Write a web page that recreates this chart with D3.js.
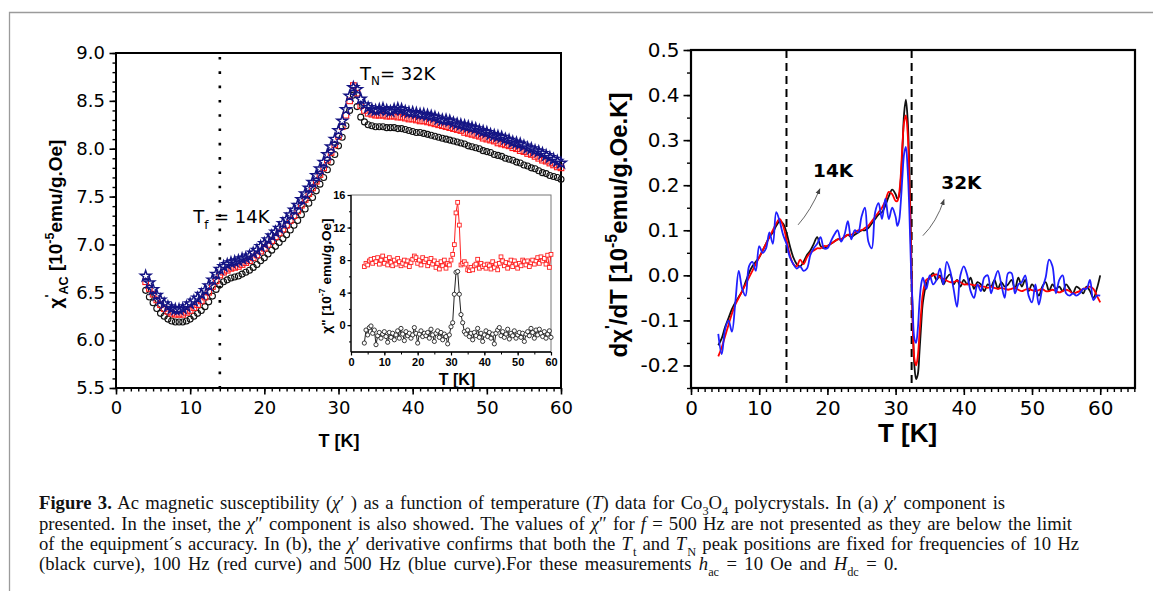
<!DOCTYPE html>
<html><head><meta charset="utf-8">
<script src="https://cdn.jsdelivr.net/npm/d3@7/dist/d3.min.js"></script>
<style>body{margin:0;background:#fff}svg{display:block}</style>
</head><body>
<svg id="c" width="1153" height="591"></svg>
<script>
// ---------------- DATA ----------------
// (a) chi' vs T, three frequencies
const tempsA = [
 4.0,4.5,5.0,5.5,6.0,6.5,7.0,7.5,8.0,8.5,
 9.0,9.5,10.0,10.5,11.0,11.5,12.0,12.5,13.0,13.5,
 14.0,14.5,15.0,15.5,16.0,16.5,17.0,17.5,18.0,18.5,
 19.0,19.5,20.0,20.5,21.0,21.5,22.0,22.5,23.0,23.5,
 24.0,24.5,25.0,25.5,26.0,26.5,27.0,27.5,28.0,28.5,
 29.0,29.5,30.0,30.5,31.0,31.5,32.0,32.5,33.0,33.5,
 34.0,34.5,35.0,35.5,36.0,36.5,37.0,37.5,38.0,38.5,
 39.0,39.5,40.0,40.5,41.0,41.5,42.0,42.5,43.0,43.5,
 44.0,44.5,45.0,45.5,46.0,46.5,47.0,47.5,48.0,48.5,
 49.0,49.5,50.0,50.5,51.0,51.5,52.0,52.5,53.0,53.5,
 54.0,54.5,55.0,55.5,56.0,56.5,57.0,57.5,58.0,58.5,
 59.0,59.5,60.0];
const chi10Hz = [
 6.52,6.45,6.39,6.33,6.28,6.25,6.22,6.20,6.19,6.19,
 6.19,6.20,6.22,6.25,6.28,6.31,6.35,6.40,6.46,6.53,
 6.58,6.61,6.63,6.65,6.66,6.67,6.69,6.71,6.73,6.76,
 6.79,6.83,6.86,6.90,6.94,6.98,7.02,7.06,7.10,7.15,
 7.20,7.25,7.31,7.37,7.43,7.49,7.56,7.63,7.70,7.78,
 7.86,7.94,8.03,8.12,8.24,8.40,8.56,8.44,8.33,8.28,
 8.25,8.24,8.23,8.23,8.23,8.22,8.22,8.22,8.21,8.21,
 8.20,8.19,8.18,8.17,8.17,8.16,8.15,8.14,8.13,8.12,
 8.11,8.10,8.09,8.08,8.07,8.06,8.05,8.03,8.02,8.01,
 8.00,7.98,7.97,7.96,7.94,7.93,7.92,7.90,7.89,7.88,
 7.86,7.85,7.83,7.82,7.80,7.79,7.77,7.75,7.74,7.72,
 7.71,7.70,7.68];
const chi100Hz = [
 6.61,6.54,6.48,6.42,6.37,6.33,6.30,6.28,6.27,6.27,
 6.27,6.29,6.31,6.34,6.37,6.41,6.45,6.50,6.56,6.62,
 6.68,6.71,6.73,6.75,6.76,6.77,6.79,6.81,6.83,6.86,
 6.89,6.93,6.96,7.00,7.04,7.08,7.12,7.16,7.20,7.25,
 7.30,7.35,7.41,7.47,7.53,7.59,7.66,7.73,7.80,7.88,
 7.96,8.04,8.13,8.23,8.35,8.50,8.66,8.58,8.45,8.40,
 8.37,8.36,8.35,8.35,8.35,8.34,8.34,8.34,8.33,8.33,
 8.32,8.31,8.31,8.30,8.29,8.29,8.28,8.27,8.26,8.25,
 8.24,8.23,8.22,8.21,8.20,8.19,8.17,8.16,8.15,8.14,
 8.13,8.11,8.10,8.09,8.08,8.06,8.05,8.04,8.03,8.01,
 8.00,7.98,7.97,7.95,7.94,7.92,7.90,7.88,7.87,7.85,
 7.83,7.81,7.80];
const chi500Hz = [
 6.67,6.60,6.53,6.47,6.42,6.38,6.35,6.33,6.32,6.32,
 6.33,6.35,6.38,6.41,6.44,6.48,6.52,6.57,6.63,6.69,
 6.74,6.77,6.79,6.81,6.82,6.83,6.85,6.86,6.88,6.91,
 6.94,6.98,7.01,7.05,7.09,7.13,7.17,7.22,7.26,7.31,
 7.36,7.41,7.47,7.53,7.59,7.65,7.72,7.79,7.86,7.94,
 8.02,8.10,8.19,8.29,8.41,8.55,8.64,8.62,8.52,8.46,
 8.43,8.41,8.40,8.41,8.42,8.40,8.39,8.41,8.42,8.41,
 8.39,8.38,8.38,8.37,8.36,8.36,8.35,8.34,8.33,8.31,
 8.30,8.30,8.29,8.27,8.26,8.25,8.24,8.23,8.22,8.21,
 8.19,8.18,8.17,8.15,8.14,8.13,8.12,8.10,8.09,8.07,
 8.06,8.05,8.03,8.01,8.00,7.98,7.97,7.95,7.93,7.91,
 7.89,7.87,7.85];
// inset: chi'' (10^-7 emu/g.Oe)
const chi2_100Hz = [
 7.2,7.6,7.4,7.9,8.1,7.6,8.2,7.8,8.3,7.5,
 8.0,8.5,7.6,8.1,7.4,8.3,7.7,7.3,8.0,7.5,
 8.2,7.8,7.3,7.6,8.0,7.4,7.9,7.2,7.7,8.1,
 8.5,8.3,7.6,8.0,7.4,8.3,7.8,8.1,7.3,7.7,
 8.2,7.5,7.9,7.1,7.6,6.9,7.8,7.3,8.0,7.0,
 7.6,7.4,8.0,8.7,9.9,13.8,15.1,12.3,7.4,7.6,
 7.8,7.5,6.8,6.7,7.1,6.8,7.3,7.5,8.1,7.0,
 7.6,7.2,7.4,7.0,7.5,7.3,6.9,7.8,7.1,7.5,
 6.8,7.6,8.4,7.9,7.3,7.7,7.0,7.6,8.0,7.2,
 7.9,7.5,7.0,7.6,7.3,8.0,7.8,7.4,7.9,7.2,
 7.7,8.0,7.5,7.9,8.3,7.6,8.4,7.9,8.2,7.5,
 8.6,7.1,8.7];
const chi2_10Hz = [
 -2.2,-0.6,-1.2,-0.3,-0.1,-1.0,-0.6,-2.4,-1.3,-0.9,
 -1.6,-1.1,-0.8,-1.4,-2.1,-0.9,-1.5,-1.0,-1.8,-1.2,
 -0.7,-1.6,-0.4,-1.1,-1.9,-0.8,-1.3,-1.0,-1.6,-1.2,
 -0.3,-1.0,-2.2,-1.1,-0.7,-1.4,-1.0,-1.3,-0.9,-1.6,
 -0.5,-1.2,-2.0,-1.0,-0.7,-1.5,-0.9,-1.8,-1.1,-1.4,
 -2.3,-1.2,-0.2,0.3,3.8,6.5,6.6,3.8,1.3,0.3,
 -0.8,-1.1,-0.6,-1.4,-1.0,-1.8,-0.9,-1.3,-0.4,-1.5,
 -1.0,-2.0,-1.2,-0.7,-1.4,-0.9,-1.6,-1.1,-2.3,-1.0,
 -0.6,-0.3,-1.3,-0.8,-1.5,-1.1,-0.5,-1.7,-1.0,-1.3,
 -0.7,-1.6,-1.2,-0.9,-1.5,-1.0,-2.0,-1.1,-0.8,-1.3,
 -0.4,-0.9,-1.6,-0.6,-1.2,-0.5,-1.0,-1.4,-0.8,-1.6,
 -1.1,-0.7,-1.5];
// (b) d chi'/dT
const tempsB = [
 4.0,4.5,5.0,5.5,6.0,6.5,7.0,7.5,8.0,8.5,
 9.0,9.5,10.0,10.5,11.0,11.5,12.0,12.5,13.0,13.5,
 14.0,14.5,15.0,15.5,16.0,16.5,17.0,17.5,18.0,18.5,
 19.0,19.5,20.0,20.5,21.0,21.5,22.0,22.5,23.0,23.5,
 24.0,24.5,25.0,25.5,26.0,26.5,27.0,27.5,28.0,28.5,
 29.0,29.5,30.0,30.25,30.5,30.75,31.0,31.25,31.5,31.75,
 32.0,32.25,32.5,32.75,33.0,33.25,33.5,33.75,34.0,34.5,
 35.0,35.5,36.0,36.5,37.0,37.5,38.0,38.5,39.0,39.5,
 40.0,40.5,41.0,41.5,42.0,42.5,43.0,43.5,44.0,44.5,
 45.0,45.5,46.0,46.5,47.0,47.5,48.0,48.5,49.0,49.5,
 50.0,50.5,51.0,51.5,52.0,52.5,53.0,53.5,54.0,54.5,
 55.0,55.5,56.0,56.5,57.0,57.5,58.0,58.5,59.0,59.5,
 60.0];
const deriv10Hz = [
 -0.155,-0.14,-0.115,-0.095,-0.075,-0.06,-0.048,-0.035,-0.015,0.005,
 0.02,0.03,0.04,0.055,0.07,0.085,0.095,0.11,0.12,0.115,
 0.095,0.065,0.04,0.025,0.02,0.03,0.045,0.055,0.07,0.085,
 0.065,0.06,0.065,0.07,0.075,0.08,0.08,0.085,0.09,0.085,
 0.09,0.095,0.1,0.1,0.105,0.115,0.125,0.135,0.14,0.155,
 0.175,0.19,0.18,0.17,0.175,0.21,0.28,0.36,0.39,0.35,
 0.25,0.08,-0.1,-0.2,-0.23,-0.22,-0.17,-0.11,-0.06,-0.02,
 -0.005,0.005,-0.01,0.0,-0.02,-0.005,0.002,-0.02,-0.01,-0.025,
 -0.01,-0.02,-0.005,-0.03,-0.015,-0.02,-0.035,-0.02,-0.025,-0.01,
 -0.03,-0.015,-0.025,-0.02,-0.01,-0.03,-0.005,-0.025,-0.01,-0.035,
 -0.02,-0.03,-0.045,-0.025,-0.015,-0.035,-0.02,-0.03,-0.025,-0.035,
 -0.02,-0.03,-0.04,-0.025,-0.03,-0.04,-0.025,-0.035,-0.05,-0.03,
 0.0];
const deriv100Hz = [
 -0.18,-0.16,-0.135,-0.11,-0.085,-0.065,-0.05,-0.035,-0.02,-0.005,
 0.01,0.025,0.04,0.055,0.07,0.085,0.1,0.115,0.125,0.11,
 0.08,0.045,0.025,0.02,0.035,0.025,0.04,0.05,0.055,0.06,
 0.06,0.065,0.065,0.07,0.075,0.08,0.08,0.085,0.09,0.09,
 0.095,0.1,0.1,0.105,0.11,0.12,0.13,0.14,0.15,0.165,
 0.185,0.18,0.165,0.165,0.18,0.22,0.29,0.34,0.355,0.32,
 0.22,0.06,-0.1,-0.185,-0.2,-0.18,-0.13,-0.08,-0.04,-0.01,
 -0.005,0.0,0.002,-0.005,-0.008,-0.012,-0.015,-0.015,-0.012,-0.015,
 -0.02,-0.02,-0.02,-0.022,-0.022,-0.025,-0.025,-0.028,-0.025,-0.028,
 -0.03,-0.028,-0.03,-0.032,-0.03,-0.028,-0.032,-0.035,-0.032,-0.03,
 -0.033,-0.035,-0.033,-0.03,-0.035,-0.035,-0.032,-0.035,-0.038,-0.035,
 -0.032,-0.035,-0.04,-0.038,-0.035,-0.03,-0.028,-0.025,-0.03,-0.045,
 -0.06];
const deriv500Hz = [
 -0.13,-0.175,-0.12,-0.1,-0.125,-0.06,0.01,-0.03,-0.045,0.02,
 0.03,0.01,0.065,0.05,0.06,0.095,0.07,0.14,0.12,0.09,
 0.07,0.04,0.025,0.015,0.02,0.01,0.015,0.045,0.06,0.07,
 0.085,0.06,0.06,0.075,0.09,0.1,0.075,0.09,0.12,0.08,
 0.1,0.095,0.13,0.15,0.075,0.06,0.14,0.16,0.125,0.17,
 0.125,0.15,0.13,0.11,0.12,0.16,0.22,0.27,0.285,0.24,
 0.15,0.02,-0.07,-0.14,-0.15,-0.12,-0.06,-0.02,-0.005,-0.03,
 0.0,-0.02,-0.01,0.015,-0.02,0.03,0.01,-0.03,-0.07,0.0,
 0.02,0.0,-0.035,-0.05,-0.02,-0.035,-0.005,0.0,-0.04,-0.01,
 0.01,-0.02,-0.05,0.005,0.005,-0.04,-0.02,-0.015,0.0,-0.045,
 -0.06,-0.02,-0.065,-0.03,-0.005,0.035,0.02,-0.04,-0.01,0.0,
 -0.04,-0.045,-0.04,-0.045,-0.04,-0.03,-0.03,-0.01,-0.055,-0.045,
 -0.045];

// tick labels
const ticksAx = [0,10,20,30,40,50,60];
const ticksAy = [5.5,6.0,6.5,7.0,7.5,8.0,8.5,9.0];
const ticksInX = [0,10,20,30,40,50,60];
const ticksInY = [0,4,8,12,16];
const ticksBx = [0,10,20,30,40,50,60];
const ticksBy = [-0.2,-0.1,0.0,0.1,0.2,0.3,0.4,0.5];
const markerTemps = [14, 32.35]; // T_f and T_N guide lines

// ---------------- DRAWING ----------------
const svg = d3.select("#c");
const SANS = "'DejaVu Sans', sans-serif";
const ARIAL = "'Liberation Sans', Arial, sans-serif";
const SERIF = "'Liberation Serif', 'Times New Roman', serif";

// outer frame
svg.append("path").attr("d","M9.5,600V12.5H1160").attr("fill","none")
  .attr("stroke","#9b9b9b").attr("stroke-width",1.3);

function rich(sel, segs, fs) {
  let shift = 0;
  segs.forEach(seg => {
    const t = Array.isArray(seg) ? seg[0] : seg;
    const st = (Array.isArray(seg) ? (seg[1]||"") : "").split(" ");
    const ts = sel.append("tspan").text(t);
    let target = 0;
    if (st.includes("sub")) target = fs*0.3;
    if (st.includes("sup")) target = -fs*0.42;
    if (target !== shift) ts.attr("dy", target - shift);
    if (st.includes("gap")) ts.attr("dx", fs*0.06);
    shift = target;
    if (st.includes("sub") || st.includes("sup")) ts.attr("font-size", fs*0.66);
    if (st.includes("b")) ts.attr("font-weight","bold");
    if (st.includes("n")) ts.attr("font-weight","normal");
    if (st.includes("i")) ts.attr("font-style","italic");
  });
  return sel;
}

function axis(g, gen, tr, values, size, pad, fmt, ff, fs, fw, sw) {
  const a = g.append("g").attr("transform", tr)
    .call(gen.tickValues(values).tickSize(size).tickPadding(pad).tickFormat(fmt));
  a.select(".domain").remove();
  a.selectAll("line").attr("stroke","#000").attr("stroke-width", sw);
  a.selectAll("text").attr("font-family", ff).attr("font-size", fs)
    .attr("font-weight", fw).attr("fill","#000");
  return a;
}
const range = (a,b,s) => d3.range(a, b + s/2, s);

// ===== Panel (a) =====
const xA = d3.scaleLinear().domain([0,60]).range([116,561]);
const yA = d3.scaleLinear().domain([5.5,9.0]).range([388,53]);
const gA = svg.append("g");

axis(gA, d3.axisBottom(xA), `translate(0,${yA(5.5)})`, range(0,60,1), 3.5, 0, "", SANS, 0, "normal", 1.4);
axis(gA, d3.axisBottom(xA), `translate(0,${yA(5.5)})`, ticksAx, 6.5, 7, d3.format("d"), SANS, 18, "normal", 1.6);
axis(gA, d3.axisLeft(yA), `translate(${xA(0)},0)`, range(5.5,9.0,0.1), 3.5, 0, "", SANS, 0, "normal", 1.4);
axis(gA, d3.axisLeft(yA), `translate(${xA(0)},0)`, ticksAy, 6.5, 4.5, d => d.toFixed(1), SANS, 18, "normal", 1.6);
gA.append("rect").attr("x",xA(0)).attr("y",yA(9)).attr("width",xA(60)-xA(0)).attr("height",yA(5.5)-yA(9))
  .attr("fill","none").attr("stroke","#000").attr("stroke-width",2);

gA.append("line").attr("x1",xA(markerTemps[0])).attr("x2",xA(markerTemps[0]))
  .attr("y1",yA(9.0)+4).attr("y2",yA(5.5)).attr("stroke","#000").attr("stroke-width",2.6)
  .attr("stroke-dasharray","2.6,11.7");

const ptsA = (vals) => tempsA.map((t,i)=>[t, vals[i]]);
// 10 Hz circles
gA.append("g").selectAll("circle").data(ptsA(chi10Hz)).join("circle")
  .attr("cx",d=>xA(d[0])).attr("cy",d=>yA(d[1])).attr("r",3)
  .attr("fill","none").attr("stroke","#111").attr("stroke-width",1.1);
// 100 Hz squares
gA.append("g").selectAll("rect").data(ptsA(chi100Hz)).join("rect")
  .attr("x",d=>xA(d[0])-2.8).attr("y",d=>yA(d[1])-2.8).attr("width",5.6).attr("height",5.6)
  .attr("fill","none").attr("stroke","#ff1a1a").attr("stroke-width",1.1);
// 500 Hz stars
const star = d3.symbol().type(d3.symbolStar).size(36);
gA.append("g").selectAll("path").data(ptsA(chi500Hz)).join("path")
  .attr("d", star).attr("transform", d=>`translate(${xA(d[0])},${yA(d[1])})`)
  .attr("fill","none").attr("stroke","#141484").attr("stroke-width",1.4);

// annotations
rich(gA.append("text").attr("x",xA(32.9)).attr("y",yA(8.72)).attr("font-family",SANS).attr("font-size",18),
  [["T"],["N","sub"],["= 32K"]], 18);
rich(gA.append("text").attr("x",xA(10.4)).attr("y",yA(7.22)).attr("font-family",SANS).attr("font-size",18),
  [["T"],["f","sub"],["  = 14K"]], 18);

// axis titles
gA.append("text").attr("x",339).attr("y",447).attr("text-anchor","middle")
  .attr("font-family",ARIAL).attr("font-weight","bold").attr("font-size",18).text("T [K]");
rich(gA.append("text").attr("transform","translate(62,224) rotate(-90)").attr("text-anchor","middle")
  .attr("font-family",ARIAL).attr("font-weight","bold").attr("font-size",19),
  [["χ"],["'","sup"],["AC","sub"],[" [10"],["-5","sup"],["emu/g.Oe]"]], 19);

// ===== Inset =====
const xI = d3.scaleLinear().domain([0,60]).range([351,551]);
const yI = d3.scaleLinear().domain([-3.3,16]).range([352,195]);
const gI = svg.append("g");
gI.append("rect").attr("x",xI(0)).attr("y",yI(16)).attr("width",xI(60)-xI(0)).attr("height",yI(-3.3)-yI(16))
  .attr("fill","#fff").attr("stroke","#777").attr("stroke-width",1);
axis(gI, d3.axisBottom(xI), `translate(0,${yI(-3.3)})`, range(0,60,5), 2.5, 0, "", ARIAL, 0, "bold", 1);
axis(gI, d3.axisBottom(xI), `translate(0,${yI(-3.3)})`, ticksInX, 3.5, 3, d3.format("d"), ARIAL, 11, "bold", 1.2);
axis(gI, d3.axisLeft(yI), `translate(${xI(0)},0)`, range(-2,16,2), 2, 0, "", ARIAL, 0, "bold", 1);
axis(gI, d3.axisLeft(yI), `translate(${xI(0)},0)`, ticksInY, 3.5, 2, d3.format("d"), ARIAL, 11, "bold", 1.2);
gI.append("line").attr("x1",xI(0)).attr("x2",xI(0)).attr("y1",yI(16)).attr("y2",yI(-3.3)).attr("stroke","#000").attr("stroke-width",1.3);
gI.append("line").attr("x1",xI(0)).attr("x2",xI(60)).attr("y1",yI(-3.3)).attr("y2",yI(-3.3)).attr("stroke","#000").attr("stroke-width",1.3);

const lineI = d3.line().x(d=>xI(d[0])).y(d=>yI(d[1]));
[[chi2_100Hz,"#ff2020","sq"],[chi2_10Hz,"#222","ci"]].forEach(([vals,col,m])=>{
  const pts = ptsA(vals);
  gI.append("path").attr("d",lineI(pts)).attr("fill","none").attr("stroke",col).attr("stroke-width",1);
  if (m==="sq") gI.append("g").selectAll("rect").data(pts).join("rect")
    .attr("x",d=>xI(d[0])-1.9).attr("y",d=>yI(d[1])-1.9).attr("width",3.8).attr("height",3.8)
    .attr("fill","#fff").attr("stroke",col).attr("stroke-width",0.9);
  else gI.append("g").selectAll("circle").data(pts).join("circle")
    .attr("cx",d=>xI(d[0])).attr("cy",d=>yI(d[1])).attr("r",2.1)
    .attr("fill","#fff").attr("stroke",col).attr("stroke-width",0.9);
});
gI.append("text").attr("x",457).attr("y",385).attr("text-anchor","middle")
  .attr("font-family",ARIAL).attr("font-weight","bold").attr("font-size",16).text("T [K]");
rich(gI.append("text").attr("transform","translate(331,276) rotate(-90)").attr("text-anchor","middle")
  .attr("font-family",ARIAL).attr("font-weight","bold").attr("font-size",13.5),
  [["χ\" [10"],["-7","sup"],[" emu/g.Oe]"]], 13.5);

// ===== Panel (b) =====
const xB = d3.scaleLinear().domain([0,65.1]).range([691,1135]);
const yB = d3.scaleLinear().domain([-0.25,0.5]).range([388,50]);
const gB = svg.append("g");
axis(gB, d3.axisBottom(xB), `translate(0,${yB(-0.25)})`, range(0,65,1), 4, 0, "", SANS, 0, "normal", 1.4);
axis(gB, d3.axisBottom(xB), `translate(0,${yB(-0.25)})`, ticksBx, 7, 6, d3.format("d"), SANS, 20, "normal", 1.6);
axis(gB, d3.axisLeft(yB), `translate(${xB(0)},0)`, range(-0.25,0.5,0.05), 4, 0, "", SANS, 0, "normal", 1.4);
axis(gB, d3.axisLeft(yB), `translate(${xB(0)},0)`, ticksBy, 7.5, 4, d => d.toFixed(1), SANS, 20, "normal", 1.6);
gB.append("rect").attr("x",xB(0)).attr("y",yB(0.5)).attr("width",xB(65.1)-xB(0)).attr("height",yB(-0.25)-yB(0.5))
  .attr("fill","none").attr("stroke","#000").attr("stroke-width",2.2);

markerTemps.forEach(t => gB.append("line").attr("x1",xB(t)).attr("x2",xB(t))
  .attr("y1",yB(0.5)).attr("y2",yB(-0.25)).attr("stroke","#000").attr("stroke-width",2)
  .attr("stroke-dasharray","8,5"));

const lineB = d3.line().x(d=>xB(d[0])).y(d=>yB(d[1])).curve(d3.curveCatmullRom.alpha(0.5));
[[deriv10Hz,"#111"],[deriv100Hz,"#ff0000"],[deriv500Hz,"#1f1fff"]].forEach(([vals,col])=>{
  gB.append("path").attr("d", lineB(tempsB.map((t,i)=>[t,vals[i]])))
    .attr("fill","none").attr("stroke",col).attr("stroke-width",1.8).attr("stroke-linejoin","round");
});

// annotations with arrows
const defs = svg.append("defs");
defs.append("marker").attr("id","ah").attr("viewBox","0 0 10 10").attr("refX",9).attr("refY",5)
  .attr("markerWidth",6).attr("markerHeight",6).attr("orient","auto-start-reverse")
  .append("path").attr("d","M0,1L10,5L0,9Z").attr("fill","#444");
function arrow(t0,v0,tc,vc,t1,v1){
  const p = d3.path(); p.moveTo(xB(t0),yB(v0)); p.quadraticCurveTo(xB(tc),yB(vc),xB(t1),yB(v1));
  gB.append("path").attr("d",p.toString()).attr("fill","none").attr("stroke","#666")
    .attr("stroke-width",1).attr("marker-end","url(#ah)");
}
arrow(15.7,0.112, 17.6,0.145, 18.9,0.192);
arrow(34.0,0.088, 36.0,0.118, 37.1,0.168);
gB.append("text").attr("x",xB(17.9)).attr("y",yB(0.218)).attr("font-family",SANS)
  .attr("font-weight","bold").attr("font-size",18.5).text("14K");
gB.append("text").attr("x",xB(36.7)).attr("y",yB(0.192)).attr("font-family",SANS)
  .attr("font-weight","bold").attr("font-size",18.5).text("32K");

gB.append("text").attr("x",878).attr("y",442)
  .attr("font-family",ARIAL).attr("font-weight","bold").attr("font-size",26).text("T [K]");
rich(gB.append("text").attr("transform","translate(627,225) rotate(-90)").attr("text-anchor","middle")
  .attr("font-family",ARIAL).attr("font-weight","bold").attr("font-size",24),
  [["dχ"],["'","sup"],["/dT [10"],["-5","sup"],["emu/g.Oe.K]"]], 24);

// ===== Caption =====
const capLines = [
  {y:509, w:966, segs:[["Figure 3.","b"],[" Ac magnetic susceptibility ("],["χ","i"],["′ ) as a function of temperature ("],["T","i"],[") data for Co"],["3","sub"],["O"],["4","sub"],[" polycrystals. In (a) "],["χ","i"],["′ component is"]]},
  {y:529.5, w:1033, segs:[["presented. In the inset, the "],["χ","i"],["″ component is also showed. The values of "],["χ","i"],["″ for "],["f","i"],[" = 500 Hz are not presented as they are below the limit"]]},
  {y:550, w:1038, segs:[["of the equipment´s accuracy. In (b), the "],["χ","i"],["′ derivative confirms that both the "],["T","i"],["t","sub gap"],[" and "],["T","i"],["N","sub gap"],[" peak positions are fixed for frequencies of 10 Hz"]]},
  {y:570, w:859, segs:[["(black curve), 100 Hz (red curve) and 500 Hz (blue curve).For these measurements "],["h","i"],["ac","sub"],[" = 10 Oe and "],["H","i"],["dc","sub"],[" = 0."]]}
];
const capFs0 = 17;
const capTexts = capLines.map(L => {
  const t = svg.append("text").attr("x",39).attr("y",L.y).attr("font-family",SERIF)
    .attr("font-size",capFs0).attr("fill","#111");
  rich(t, L.segs, capFs0);
  return t;
});
// size font from the longest line, then fill each line by word spacing
const k = capLines[2].w * 0.965 / capTexts[2].node().getComputedTextLength();
const capFs = capFs0 * k;
capTexts.forEach((t,i) => {
  t.selectAll("tspan").remove();
  t.attr("font-size", capFs);
  rich(t, capLines[i].segs, capFs);
  const nat = t.node().getComputedTextLength();
  const nSp = capLines[i].segs.map(s=>s[0]).join("").split(" ").length - 1;
  t.attr("word-spacing", ((capLines[i].w - nat) / nSp).toFixed(2));
});
</script>
</body></html>
